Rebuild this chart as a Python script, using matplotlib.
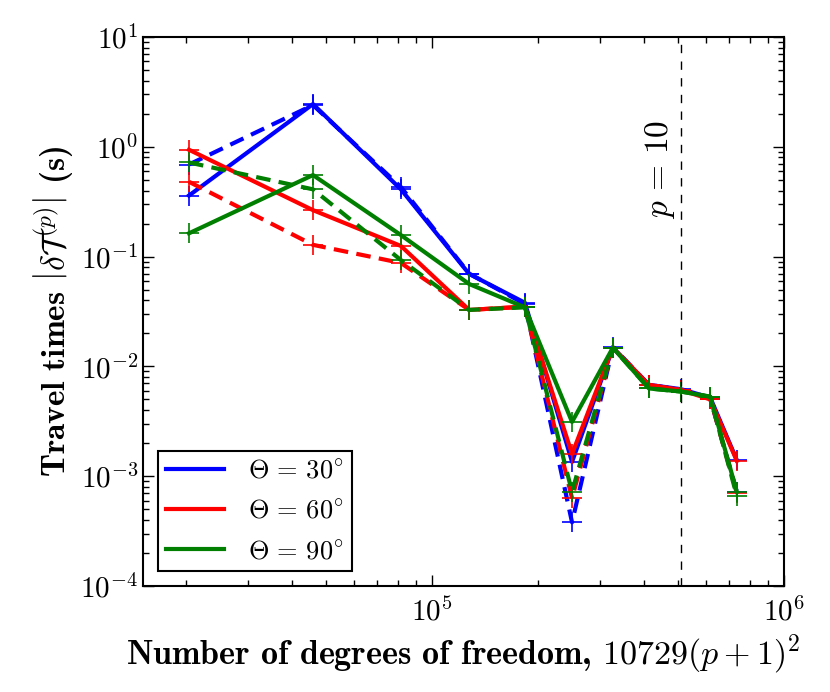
import numpy as np
import matplotlib
matplotlib.use("Agg")
import matplotlib.pyplot as plt

plt.rcParams['font.family'] = 'serif'
plt.rcParams['font.serif'] = ['cmr10']
plt.rcParams['mathtext.fontset'] = 'cm'
plt.rcParams['axes.formatter.use_mathtext'] = True
plt.rcParams['axes.unicode_minus'] = False

# degrees of freedom (x) and travel time errors for each angle
ndof = [20400, 45900, 81600, 127500, 183600, 249900, 326400, 413100, 510000, 617100, 734400]
p10_dof = 510000

blue_solid = [0.36, 2.45, 0.41, 0.0695, 0.038, 0.00135, 0.0148, 0.0068, 0.0062, 0.0052, 0.0014]
blue_dash = [0.69, 2.40, 0.43, 0.070, 0.037, 0.00038, 0.0150, 0.0068, 0.0061, 0.0051, 0.00072]
red_solid = [0.94, 0.265, 0.125, 0.0327, 0.035, 0.00159, 0.0148, 0.0068, 0.0061, 0.0050, 0.00138]
red_dash = [0.48, 0.128, 0.0875, 0.0327, 0.035, 0.00063, 0.0148, 0.0067, 0.0061, 0.0051, 0.00070]
green_solid = [0.163, 0.553, 0.157, 0.0563, 0.0345, 0.00312, 0.0148, 0.0063, 0.0059, 0.0053, 0.00072]
green_dash = [0.72, 0.41, 0.093, 0.0327, 0.0345, 0.00072, 0.0148, 0.0063, 0.0059, 0.0053, 0.00066]

labels = [r'$\Theta\,=\,30^{\circ}$', r'$\Theta\,=\,60^{\circ}$', r'$\Theta\,=\,90^{\circ}$']
colors = ['#0000ff', '#ff0000', '#007f00']

fig = plt.figure(figsize=(8.3, 6.92), dpi=100)
ax = fig.add_axes([0.1723, 0.1532, 0.7723, 0.7933])

series = [(blue_solid, blue_dash), (red_solid, red_dash), (green_solid, green_dash)]
for (sol, das), c, lab in zip(series, colors, labels):
    ax.plot(ndof, sol, '-', color=c, lw=3, marker='+', ms=14, mew=1.2, label=lab)
    ax.plot(ndof, das, color=c, lw=3, ls=(0, (3.5, 2)), marker='+', ms=14, mew=1.2)

ax.axvline(p10_dof, color='k', lw=1, ls=(0, (6, 6)))
ax.annotate(r'$p\,=\,10$', xy=(p10_dof, 0.62), xytext=(-3, 0), textcoords='offset points',
            rotation=90, ha='right', va='center', fontsize=24)

ax.set_xscale('log')
ax.set_yscale('log')
ax.set_xlim(15100, 1e6)
ax.set_ylim(1e-4, 10)

ax.tick_params(which='both', direction='in', top=True, right=True, labelsize=21)
ax.tick_params(which='major', length=8, width=1)
ax.tick_params(which='minor', length=4, width=1)
ax.tick_params(axis='x', pad=8)
for s in ax.spines.values():
    s.set_linewidth(1.5)

ax.set_xlabel(r'Number of degrees of freedom, $10729(p+1)^2$', fontfamily='cmb10', fontsize=24.5)
ax.set_ylabel(r'Travel times $\left|\delta\mathcal{T}^{(p)}\right|$ (s)', fontfamily='cmb10', fontsize=24)

leg_handles = [plt.Line2D([], [], color=c, lw=3) for c in colors]
leg = ax.legend(leg_handles, labels, loc='lower left', fontsize=19, fancybox=False,
                framealpha=1, edgecolor='k', handlelength=2.2, borderpad=0.32,
                labelspacing=0.62, handletextpad=0.9, borderaxespad=0.55)
leg.get_frame().set_linewidth(1.5)

fig.savefig('out.png', dpi=100)
